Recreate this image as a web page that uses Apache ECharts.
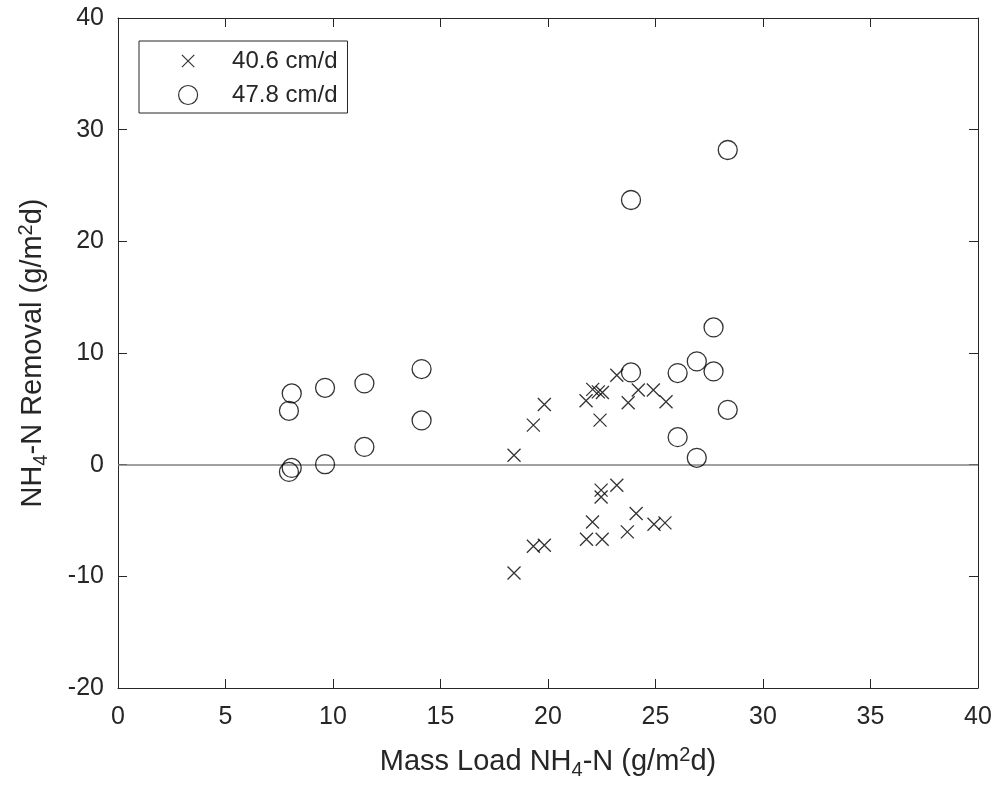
<!DOCTYPE html>
<html>
<head>
<meta charset="utf-8">
<script src="https://cdn.jsdelivr.net/npm/echarts@6/dist/echarts.min.js"></script>
<style>
html,body{margin:0;padding:0;background:#fff;}
#chart{width:1001px;height:787px;}
</style>
</head>
<body>
<div id="chart"></div>
<script>
// ---- data ----
const seriesNames = ['40.6 cm/d', '47.8 cm/d'];
const crossX = [18.42, 19.32, 19.83, 21.77, 22.08, 22.34, 22.53, 22.42, 23.2, 23.73, 24.2, 24.9, 25.49,
                18.42, 19.32, 19.83, 21.79, 22.07, 22.52, 22.47, 22.47, 23.2, 23.69, 24.1, 24.93, 25.44];
const crossY = [0.85, 3.54, 5.39, 5.72, 6.74, 6.52, 6.47, 3.99, 8.0, 5.54, 6.68, 6.68, 5.63,
                -9.7, -7.3, -7.21, -6.68, -5.13, -6.68, -2.28, -2.89, -1.84, -6.02, -4.37, -5.33, -5.21];
const circleX = [7.95, 8.08, 9.63, 11.46, 14.12, 14.12, 11.46, 9.63, 8.08, 7.95,
                 28.36, 23.86, 27.7, 26.92, 27.7, 23.86, 26.03, 28.36, 26.03, 26.92];
const circleY = [4.82, 6.38, 6.88, 7.28, 8.56, 3.96, 1.59, 0.04, -0.29, -0.65,
                 28.18, 23.7, 12.29, 9.25, 8.35, 8.26, 8.2, 4.91, 2.46, 0.61];
const xTicks = {min: 0, max: 40, interval: 5};
const yTicks = {min: -20, max: 40, interval: 10};
const refLineY = 0;

const ink = '#262626';
const font = 'Liberation Sans, Arial, Helvetica, sans-serif';
const crossPath = 'path://M0,0M20,20M3.5,3.5L16.5,16.5M16.5,3.5L3.5,16.5';

const zip = (xs, ys) => xs.map((x, i) => [x, ys[i]]);

const chart = echarts.init(document.getElementById('chart'), null, {renderer: 'canvas'});

const axisCommon = {
  type: 'value',
  axisLine: {show: true, onZero: false, lineStyle: {color: ink, width: 1}},
  axisTick: {show: true, inside: true, length: 9, lineStyle: {color: ink, width: 1}},
  splitLine: {show: false},
};

const richTitle = {
  sub: {fontFamily: font, fontSize: 20, color: ink, padding: [16, 0, 0, 0]},
  sup: {fontFamily: font, fontSize: 20, color: ink, padding: [0, 0, 14, 0]}
};

const option = {
  backgroundColor: '#fff',
  animation: false,
  grid: {left: 118, top: 18, width: 860, height: 670, containLabel: false},
  legend: {
    left: 139, top: 41,
    orient: 'vertical',
    padding: [8, 10, 6, 39],
    itemWidth: 78, itemHeight: 19, itemGap: 10,
    borderColor: ink, borderWidth: 1,
    backgroundColor: '#fff',
    itemStyle: {borderWidth: 1.2, borderColor: '#000'},
    textStyle: {fontFamily: font, fontSize: 24, color: ink, lineHeight: 24},
    data: seriesNames,
    selectedMode: false
  },
  xAxis: [
    Object.assign({}, axisCommon, {
      position: 'bottom', min: xTicks.min, max: xTicks.max, interval: xTicks.interval,
      axisLabel: {fontFamily: font, fontSize: 25, color: ink, margin: 17},
      name: 'Mass Load NH{sub|4}-N (g/m{sup|2}d)',
      nameLocation: 'middle', nameGap: 56,
      nameTextStyle: {fontFamily: font, fontSize: 29, color: ink, rich: richTitle}
    }),
    Object.assign({}, axisCommon, {
      position: 'top', min: xTicks.min, max: xTicks.max, interval: xTicks.interval,
      axisLabel: {show: false}
    })
  ],
  yAxis: [
    Object.assign({}, axisCommon, {
      position: 'left', min: yTicks.min, max: yTicks.max, interval: yTicks.interval,
      axisLabel: {fontFamily: font, fontSize: 25, color: ink, margin: 14},
      name: 'NH{sub|4}-N Removal (g/m{sup|2}d)',
      nameLocation: 'middle', nameGap: 67,
      nameTextStyle: {fontFamily: font, fontSize: 29, color: ink, rich: richTitle}
    }),
    Object.assign({}, axisCommon, {
      position: 'right', min: yTicks.min, max: yTicks.max, interval: yTicks.interval,
      axisLabel: {show: false}
    })
  ],
  series: [
    {
      name: seriesNames[0],
      type: 'scatter',
      xAxisIndex: 0, yAxisIndex: 0,
      symbol: crossPath,
      symbolSize: 20,
      itemStyle: {color: 'rgba(0,0,0,0)', borderColor: '#000', borderWidth: 1.3},
      emphasis: {disabled: true},
      data: zip(crossX, crossY),
      z: 3
    },
    {
      name: seriesNames[1],
      type: 'scatter',
      xAxisIndex: 0, yAxisIndex: 0,
      symbol: 'circle',
      symbolSize: 19,
      itemStyle: {color: 'rgba(0,0,0,0)', borderColor: '#000', borderWidth: 1.3},
      emphasis: {disabled: true},
      data: zip(circleX, circleY),
      markLine: {
        silent: true,
        symbol: ['none', 'none'],
        label: {show: false},
        lineStyle: {color: '#808080', width: 1.5, type: 'solid'},
        data: [{yAxis: refLineY}],
        z: 1
      },
      z: 3
    }
  ]
};
chart.setOption(option);
</script>
</body>
</html>
